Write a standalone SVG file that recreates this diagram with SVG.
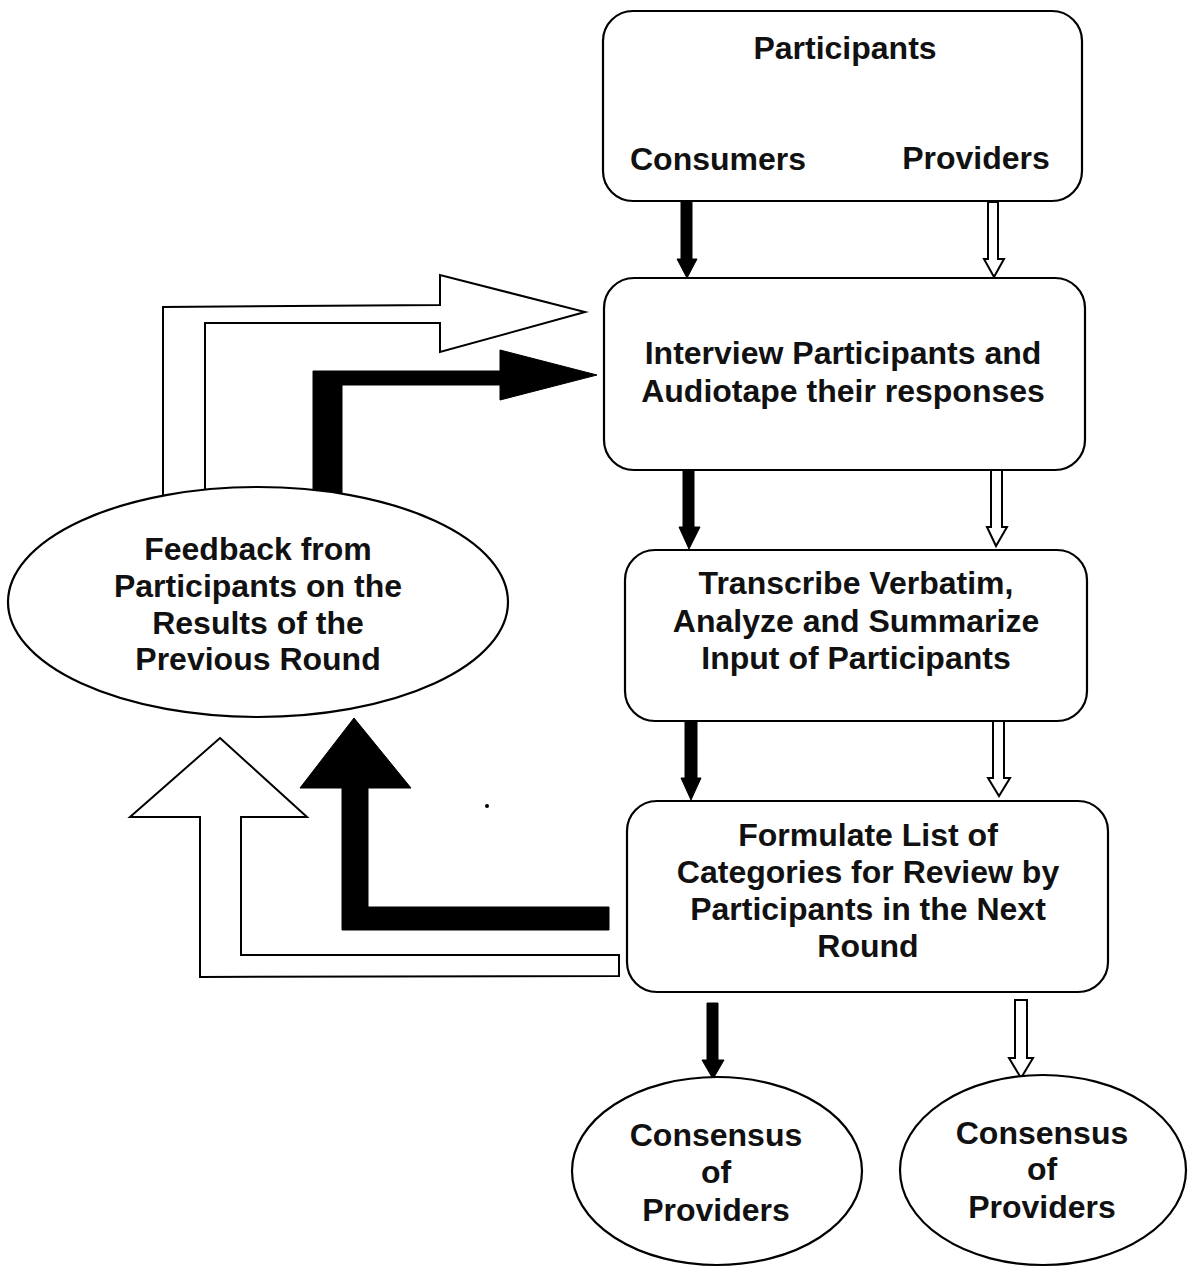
<svg xmlns="http://www.w3.org/2000/svg" width="1188" height="1270" viewBox="0 0 1188 1270">
<style>
.box{fill:#fff;stroke:#000;stroke-width:2.2}
.blk{fill:#000;stroke:#000;stroke-width:1}
.wht{fill:#fff;stroke:#000;stroke-width:2;stroke-linejoin:miter}
.t{font-family:"Liberation Sans",Arial,sans-serif;font-weight:bold;font-size:32px;text-anchor:middle;fill:#111}
</style>
<rect width="1188" height="1270" fill="#fff"/>
<g id="connectors">
<polygon class="blk" points="681,202 692,202 692,259 697,259 687,278 677,259 681,259"/>
<polygon class="wht" points="988,202 998,202 998,259 1004,259 994,277 984,259 988,259"/>
<polygon class="blk" points="683,470 694,470 694,527 700,527 689,549 679,527 683,527"/>
<polygon class="wht" points="991,470 1002,470 1002,527 1007,527 996,546 987,527 991,527"/>
<polygon class="blk" points="685,721 697,721 697,778 701,778 691,800 681,778 685,778"/>
<polygon class="wht" points="993,721 1004,721 1004,778 1010,778 999,796 988,778 993,778"/>
<polygon class="blk" points="707,1003 718,1003 718,1060 724,1060 713,1079 702,1060 707,1060"/>
<polygon class="wht" points="1015,1000 1027,1000 1027,1058 1033,1058 1021,1078 1009,1058 1015,1058"/>
<polygon class="wht" points="163,505 163,307 440,305 440,275 585,312 440,352 440,323 205,323 205,505"/>
<polygon class="blk" points="313,505 313,371 500,371 500,350 597,375 500,400 500,385 342,385 342,505"/>
<polygon class="wht" points="220,738 307,817 241,817 241,955 619,955 619,976 200,977 200,817 130,817"/>
<polygon class="blk" points="354,718 411,788 368,788 368,907 609,907 609,930 342,930 342,788 300,788"/>
</g>
<g id="participants">
<rect class="box" x="603" y="11" width="479" height="190" rx="30"/>
<text class="t" x="845" y="59">Participants</text>
<text class="t" x="718" y="170">Consumers</text>
<text class="t" x="976" y="169">Providers</text>
</g>
<g id="interview">
<rect class="box" x="604" y="278" width="481" height="192" rx="30"/>
<text class="t" x="843" y="364">Interview Participants and</text>
<text class="t" x="843" y="402">Audiotape their responses</text>
</g>
<g id="transcribe">
<rect class="box" x="625" y="550" width="462" height="171" rx="30"/>
<text class="t" x="856" y="594">Transcribe Verbatim,</text>
<text class="t" x="856" y="632">Analyze and Summarize</text>
<text class="t" x="856" y="669">Input of Participants</text>
</g>
<g id="formulate">
<rect class="box" x="627" y="801" width="481" height="191" rx="30"/>
<text class="t" x="868" y="846">Formulate List of</text>
<text class="t" x="868" y="883">Categories for Review by</text>
<text class="t" x="868" y="920">Participants in the Next</text>
<text class="t" x="868" y="957">Round</text>
</g>
<g id="feedback">
<ellipse class="box" cx="258" cy="602" rx="250" ry="115"/>
<text class="t" x="258" y="560">Feedback from</text>
<text class="t" x="258" y="597">Participants on the</text>
<text class="t" x="258" y="634">Results of the</text>
<text class="t" x="258" y="670">Previous Round</text>
</g>
<g id="consensus1">
<ellipse class="box" cx="717" cy="1171" rx="145" ry="94"/>
<text class="t" x="716" y="1146">Consensus</text>
<text class="t" x="716" y="1183">of</text>
<text class="t" x="716" y="1221">Providers</text>
</g>
<g id="consensus2">
<ellipse class="box" cx="1043" cy="1170" rx="143" ry="95"/>
<text class="t" x="1042" y="1144">Consensus</text>
<text class="t" x="1042" y="1180">of</text>
<text class="t" x="1042" y="1218">Providers</text>
</g>
<circle cx="487" cy="806" r="2" fill="#000"/>
</svg>
